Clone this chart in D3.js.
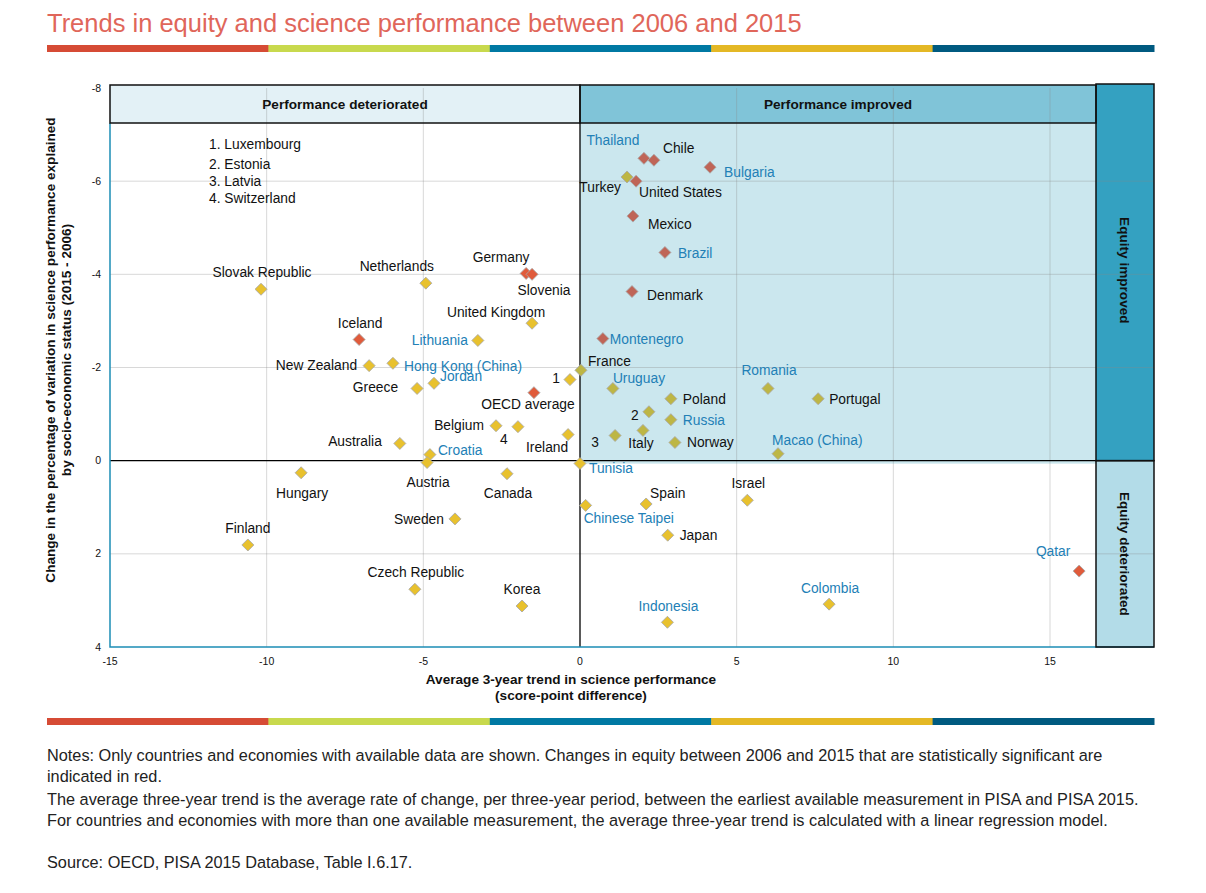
<!DOCTYPE html>
<html><head><meta charset="utf-8">
<script src="https://cdn.jsdelivr.net/npm/d3@7/dist/d3.min.js"></script>
<style>
html,body{margin:0;padding:0;background:#fff;}
svg{display:block;font-family:"Liberation Sans",Arial,sans-serif;}
</style></head>
<body><svg id="chart" width="1206" height="893"></svg>
<script>
// ---------- DATA ----------
const countries = ["Thailand","Chile","Bulgaria","Turkey","United States","Mexico","Brazil","Denmark","Montenegro","France",
"Uruguay","Poland","Estonia","Russia","Italy","Latvia","Norway","Romania","Portugal","Macao (China)",
"Tunisia","Chinese Taipei","Spain","Israel","Japan","Qatar","Colombia","Indonesia","Slovak Republic","Netherlands",
"Germany","Slovenia","United Kingdom","Iceland","Lithuania","New Zealand","Hong Kong (China)","Jordan","Greece","Luxembourg",
"OECD average","Belgium","Switzerland","Ireland","Australia","Croatia","Austria","Hungary","Canada","Sweden",
"Finland","Czech Republic","Korea"];
const trend = [2.04,2.36,4.15,1.50,1.79,1.69,2.71,1.66,0.73,0.03,
1.05,2.90,2.20,2.90,2.01,1.12,3.03,6.00,7.60,6.32,
0.00,0.18,2.11,5.34,2.80,15.93,7.95,2.79,-10.18,-4.92,
-1.72,-1.53,-1.53,-7.05,-3.26,-6.73,-5.97,-4.66,-5.20,-0.32,
-1.47,-2.68,-1.98,-0.38,-5.75,-4.79,-4.88,-8.90,-2.33,-3.99,
-10.60,-5.27,-1.85];
const equity = [-6.49,-6.45,-6.30,-6.09,-6.00,-5.25,-4.47,-3.63,-2.62,-1.94,
-1.55,-1.33,-1.05,-0.88,-0.65,-0.54,-0.39,-1.55,-1.33,-0.15,
0.06,0.96,0.93,0.85,1.60,2.37,3.08,3.47,-3.68,-3.81,
-4.02,-4.00,-2.95,-2.60,-2.58,-2.04,-2.09,-1.66,-1.55,-1.74,
-1.46,-0.75,-0.73,-0.56,-0.37,-0.13,0.04,0.26,0.28,1.25,
1.81,2.76,3.12];
const significant = ["Thailand","Chile","Bulgaria","United States","Mexico","Brazil","Denmark","Montenegro",
"Qatar","Germany","Slovenia","Iceland","OECD average"];
const partners = ["Thailand","Bulgaria","Brazil","Montenegro","Uruguay","Russia","Romania","Macao (China)","Tunisia",
"Chinese Taipei","Qatar","Colombia","Indonesia","Lithuania","Hong Kong (China)","Jordan","Croatia"];
const numbered = ["Luxembourg","Estonia","Latvia","Switzerland"];
const xTicks = [-15,-10,-5,0,5,10,15];
const yTicks = [-8,-6,-4,-2,0,2,4];
const title = "Trends in equity and science performance between 2006 and 2015";
const xTitle = ["Average 3-year trend in science performance","(score-point difference)"];
const yTitle = ["Change in the percentage of variation in science performance explained","by socio-economic status (2015 - 2006)"];
const colHeaders = ["Performance deteriorated","Performance improved"];
const rowHeaders = ["Equity improved","Equity deteriorated"];
const notes = [
 "Notes: Only countries and economies with available data are shown. Changes in equity between 2006 and 2015 that are statistically significant are",
 "indicated in red.",
 "The average three-year trend is the average rate of change, per three-year period, between the earliest available measurement in PISA and PISA 2015.",
 "For countries and economies with more than one available measurement, the average three-year trend is calculated with a linear regression model.",
 "",
 "Source: OECD, PISA 2015 Database, Table I.6.17."];

// ---------- LAYOUT (label placement: anchor, dx, dy in px) ----------
const labelPos = {
 "Thailand":["middle",-31,-13],"Chile":["start",9,-7],"Bulgaria":["start",14,10],"Turkey":["end",-6,15],
 "United States":["start",3,16],"Mexico":["start",15,13],"Brazil":["start",13,6],"Denmark":["start",15,8],
 "Montenegro":["start",7,5],"France":["start",7,-4],"Uruguay":["start",0,-5],"Poland":["start",12,5],
 "Estonia":["middle",-14,8],"Russia":["start",12,5],"Italy":["middle",-2,18],"Latvia":["middle",-20,11],
 "Norway":["start",12,5],"Romania":["middle",1,-13],"Portugal":["start",11,5],"Macao (China)":["start",-6,-9],
 "Tunisia":["start",9,10],"Chinese Taipei":["start",-2,18],"Spain":["start",4,-6],"Israel":["middle",1,-12],
 "Japan":["start",12,5],"Qatar":["middle",-26,-15],"Colombia":["middle",1,-11],"Indonesia":["middle",1,-11],
 "Slovak Republic":["middle",1,-12],"Netherlands":["middle",-29,-12],"Germany":["middle",-25,-11],
 "Slovenia":["middle",12,21],"United Kingdom":["middle",-36,-6],"Iceland":["middle",1,-12],
 "Lithuania":["end",-10,5],"New Zealand":["end",-12,4],"Hong Kong (China)":["start",11,8],"Jordan":["start",6,-2],
 "Greece":["end",-19,4],"Luxembourg":["end",-10,3],"OECD average":["middle",-6,16],"Belgium":["end",-12,4],
 "Switzerland":["middle",-14,17],"Ireland":["middle",-21,17],"Australia":["end",-18,3],"Croatia":["start",8,0],
 "Austria":["middle",1,24],"Hungary":["middle",1,25],"Canada":["middle",1,24],"Sweden":["end",-11,5],
 "Finland":["middle",0,-12],"Czech Republic":["middle",1,-12],"Korea":["middle",0,-12]
};
const stripeColors = ["#d64b35","#c8d94d","#0079a3","#e4b825","#005a80"];

const svg = d3.select("#chart");
const L = 110, R = 1154, T = 88, B = 647, COL = 1096, HEAD = 123, STRIPE_L = 47;
const LBL = 13.8, BOLD = 13.6;
const x = d3.scaleLinear().domain([-15,15]).range([L,1050]);
const y = d3.scaleLinear().domain([-8,4]).range([T,B]);

// title
svg.append("text").attr("x",STRIPE_L).attr("y",32).attr("fill","#e0665a")
  .attr("font-size",25.5).text(title);
function stripe(yy){
  const w = (R-STRIPE_L)/stripeColors.length;
  stripeColors.forEach((c,i)=>svg.append("rect").attr("x",STRIPE_L+i*w).attr("y",yy).attr("width",w+0.5).attr("height",7).attr("fill",c));
}
stripe(45); stripe(718);

// backgrounds
svg.append("rect").attr("x",L).attr("y",T-3).attr("width",x(0)-L).attr("height",HEAD-T+3).attr("fill","#e3f1f6");
svg.append("rect").attr("x",x(0)).attr("y",T-3).attr("width",COL-x(0)).attr("height",HEAD-T+3).attr("fill","#80c4d8");
svg.append("rect").attr("x",x(0)).attr("y",HEAD).attr("width",COL-x(0)).attr("height",y(0)+3-HEAD).attr("fill","#cbe7ee");
svg.append("rect").attr("x",COL).attr("y",T-4).attr("width",R-COL).attr("height",y(0)-T+4).attr("fill","#34a1c1");
svg.append("rect").attr("x",COL).attr("y",y(0)).attr("width",R-COL).attr("height",B-y(0)).attr("fill","#b3dce8");

// gridlines
const g = svg.append("g").attr("stroke","#8a8a8a").attr("stroke-opacity",0.33).attr("stroke-width",1);
xTicks.filter(t=>t!==0 && t!==-15).forEach(t=>g.append("line").attr("x1",x(t)).attr("x2",x(t)).attr("y1",T).attr("y2",B));
yTicks.filter(t=>t!==0 && t!==-8 && t!==4).forEach(t=>g.append("line").attr("x1",L).attr("x2",R).attr("y1",y(t)).attr("y2",y(t)));

// zero lines
svg.append("line").attr("x1",x(0)).attr("x2",x(0)).attr("y1",HEAD).attr("y2",B).attr("stroke","#000").attr("stroke-width",1.3);
svg.append("line").attr("x1",L).attr("x2",COL).attr("y1",y(0)).attr("y2",y(0)).attr("stroke","#000").attr("stroke-width",1.3);

// plot frame (teal)
svg.append("path").attr("d",`M${L},${HEAD}V${B}H${R}`).attr("fill","none").attr("stroke","#1c8db5").attr("stroke-width",1.5);

// header boxes borders
svg.append("rect").attr("x",L).attr("y",T-3).attr("width",x(0)-L).attr("height",HEAD-T+3).attr("fill","none").attr("stroke","#111").attr("stroke-width",1.5);
svg.append("rect").attr("x",x(0)).attr("y",T-3).attr("width",COL-x(0)).attr("height",HEAD-T+3).attr("fill","none").attr("stroke","#111").attr("stroke-width",1.5);
svg.append("rect").attr("x",COL).attr("y",T-4).attr("width",R-COL).attr("height",y(0)-T+4).attr("fill","none").attr("stroke","#111").attr("stroke-width",1.5);
svg.append("rect").attr("x",COL).attr("y",y(0)).attr("width",R-COL).attr("height",B-y(0)).attr("fill","none").attr("stroke","#111").attr("stroke-width",1.5);

svg.append("text").attr("x",(L+x(0))/2).attr("y",109).attr("text-anchor","middle").attr("font-size",BOLD).attr("font-weight","bold").attr("fill","#111").text(colHeaders[0]);
svg.append("text").attr("x",(x(0)+COL)/2).attr("y",109).attr("text-anchor","middle").attr("font-size",BOLD).attr("font-weight","bold").attr("fill","#111").text(colHeaders[1]);
[[rowHeaders[0],(T+y(0))/2-4],[rowHeaders[1],(y(0)+B)/2]].forEach(([t,cy])=>{
  svg.append("text").attr("transform",`translate(${(COL+R)/2-5},${cy}) rotate(90)`).attr("text-anchor","middle")
   .attr("font-size",BOLD).attr("font-weight","bold").attr("fill","#111").text(t);
});

// axes ticks
yTicks.forEach(t=>svg.append("text").attr("x",101).attr("y",y(t)+3.5).attr("text-anchor","end").attr("font-size",10.5).attr("fill","#111").text(t));
xTicks.forEach(t=>svg.append("text").attr("x",x(t)).attr("y",665).attr("text-anchor","middle").attr("font-size",10.5).attr("fill","#111").text(t));

// axis titles
xTitle.forEach((t,i)=>svg.append("text").attr("x",571).attr("y",684+i*16).attr("text-anchor","middle").attr("font-size",BOLD).attr("font-weight","bold").attr("fill","#111").text(t));
yTitle.forEach((t,i)=>svg.append("text").attr("transform",`translate(${55+i*16},350) rotate(-90)`).attr("text-anchor","middle").attr("font-size",BOLD).attr("font-weight","bold").attr("fill","#111").text(t));

// numbered legend
numbered.forEach((n,i)=>svg.append("text").attr("x",209).attr("y",149+[0,20,37,54][i]).attr("font-size",LBL).attr("fill","#111").text(`${i+1}. ${n}`));

// markers
const data = countries.map((c,i)=>({c,x:trend[i],y:equity[i],sig:significant.includes(c),partner:partners.includes(c)}));
function markerColor(d){
  const inBlue = d.x>0 && d.y<0;
  if(d.sig) return inBlue ? "#bf6557" : "#e05b3b";
  return inBlue ? "#bdb645" : "#e8c12e";
}
const sym = d3.symbol().type(d3.symbolSquare).size(72);
svg.append("g").selectAll("path").data(data).join("path")
  .attr("d",sym).attr("transform",d=>`translate(${x(d.x)},${y(d.y)}) rotate(45)`)
  .attr("fill",markerColor).attr("stroke","#a9a9a9").attr("stroke-width",0.8);

// labels
svg.append("g").selectAll("text").data(data).join("text")
  .attr("x",d=>x(d.x)+labelPos[d.c][1]).attr("y",d=>y(d.y)+labelPos[d.c][2])
  .attr("text-anchor",d=>labelPos[d.c][0]).attr("font-size",LBL)
  .attr("fill",d=>d.partner?"#2280b6":"#111")
  .text(d=>{const k=numbered.indexOf(d.c); return k>=0? String(k+1): d.c;});

// notes
notes.forEach((t,i)=>svg.append("text").attr("x",STRIPE_L).attr("y",761+i*21+(i>=2?2:0)).attr("font-size",16.3).attr("fill","#222").text(t));
</script></body></html>
